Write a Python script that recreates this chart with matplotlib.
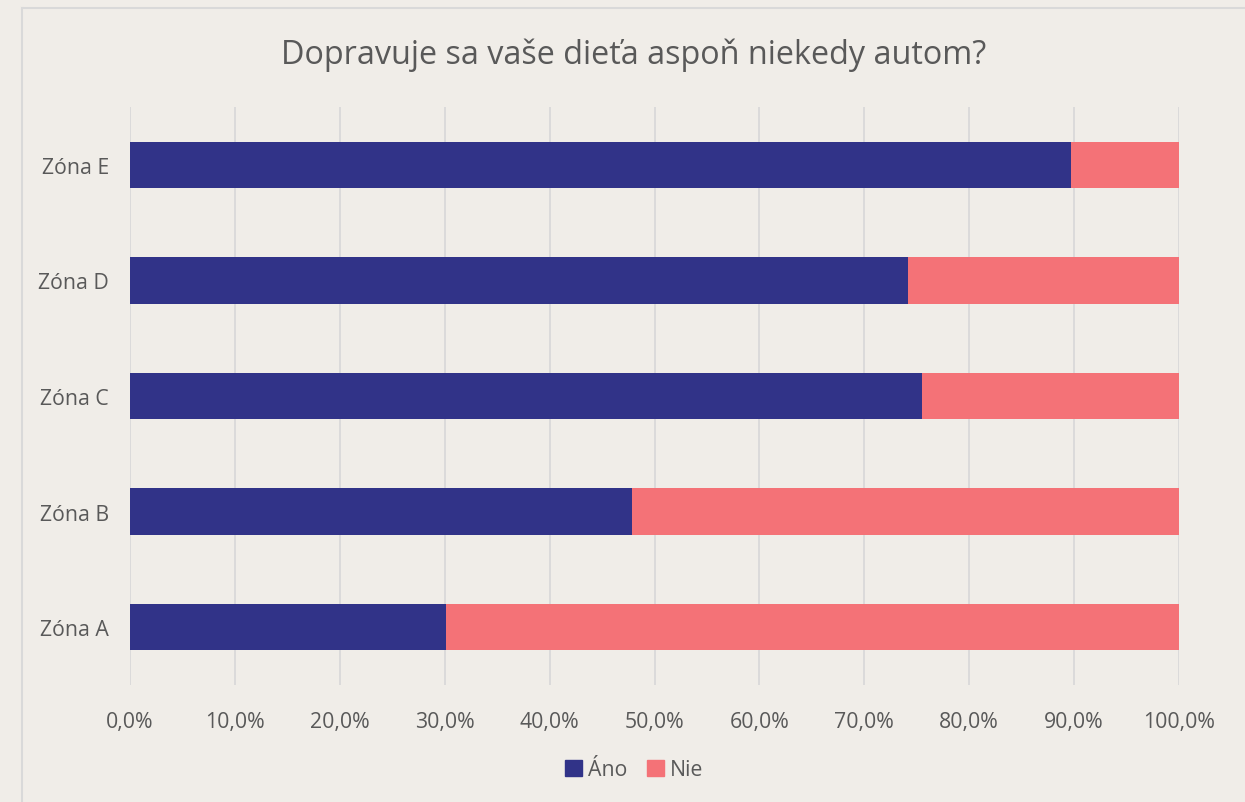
import matplotlib.pyplot as plt
from matplotlib.lines import Line2D
from matplotlib.patches import Patch
from matplotlib.ticker import FuncFormatter
import numpy as np

# data
zones = ['Zóna A', 'Zóna B', 'Zóna C', 'Zóna D', 'Zóna E']
ano = [30.1, 47.9, 75.5, 74.2, 89.7]
nie = [69.9, 52.1, 24.5, 25.8, 10.3]
series_names = ['Áno', 'Nie']
title = 'Dopravuje sa vaše dieťa aspoň niekedy autom?'

bg = '#F0EDE8'
blue = '#313388'
pink = '#F47277'
txt = '#595959'
grid = '#D9D9D9'

plt.rcParams['font.family'] = ['Open Sans', 'DejaVu Sans']

W, H = 1245, 803
fig = plt.figure(figsize=(W / 100, H / 100), dpi=100)
fig.patch.set_facecolor(bg)

# chart frame: only the left and top edges show in the crop
fx, fy = 22 / W, 1 - 9 / H
fig.lines.append(Line2D([fx, fx], [0, fy], transform=fig.transFigure, color=grid, lw=1.5))
fig.lines.append(Line2D([fx, 1], [fy, fy], transform=fig.transFigure, color=grid, lw=1.5))

ax = fig.add_axes([130 / W, 1 - 686 / H, (1179 - 130) / W, (686 - 108) / H])
ax.set_facecolor(bg)

y = np.arange(len(zones))
ax.barh(y, ano, height=0.4, color=blue, label=series_names[0], zorder=3)
ax.barh(y, nie, left=ano, height=0.4, color=pink, label=series_names[1], zorder=3)

ax.set_xlim(0, 100)
ax.set_ylim(-0.5, len(zones) - 0.5)
ax.set_xticks(np.arange(0, 101, 10))
ax.xaxis.set_major_formatter(FuncFormatter(lambda v, p: f'{v:.1f}%'.replace('.', ',')))
ax.set_yticks(y)
ax.set_yticklabels(zones)
ax.grid(axis='x', color=grid, linewidth=1.3, zorder=0)
for s in ax.spines.values():
    s.set_visible(False)
ax.tick_params(axis='both', length=0, labelsize=15.3, colors=txt)
ax.tick_params(axis='x', pad=19)
ax.tick_params(axis='y', pad=15)

fig.text(634 / W, 1 - 55 / H, title, ha='center', va='center', fontsize=23.3, color=txt)

handles = [Patch(color=blue, label=series_names[0]), Patch(color=pink, label=series_names[1])]
fig.legend(handles=handles, loc='center', bbox_to_anchor=(634 / W, 1 - 771 / H), ncol=2,
           frameon=False, fontsize=15.3, labelcolor=txt, handlelength=0.8,
           handleheight=0.8, handletextpad=0.3, columnspacing=0.9)

fig.savefig('out.png', dpi=100, facecolor=bg)
